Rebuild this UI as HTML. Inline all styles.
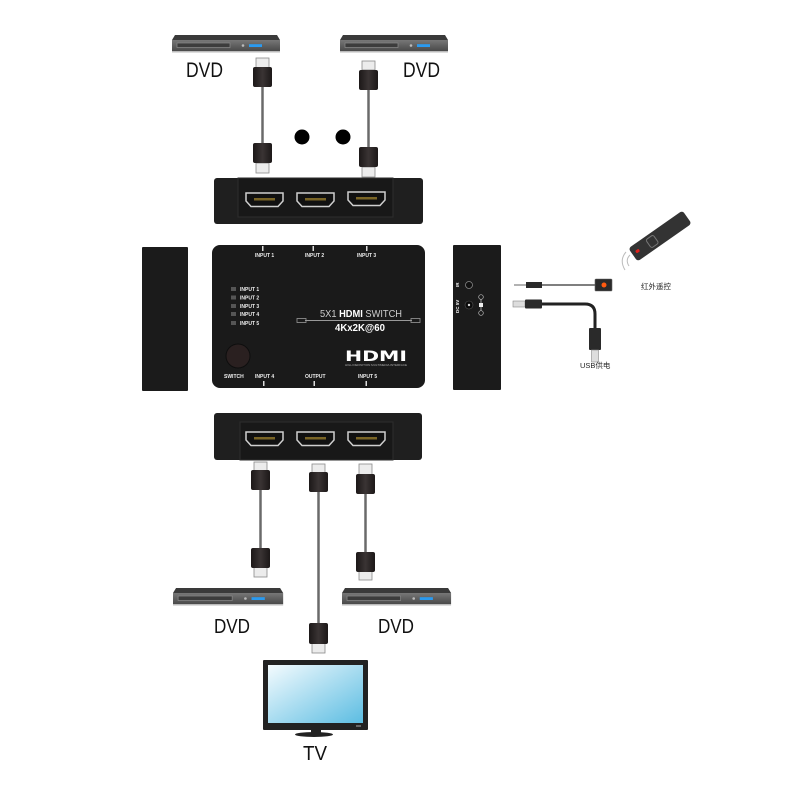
<!DOCTYPE html>
<html><head><meta charset="utf-8"><style>
html,body{margin:0;padding:0;background:#fff;}
svg{display:block;}
text{font-family:"Liberation Sans","Noto Sans CJK SC",sans-serif;}
</style></head><body>
<svg width="800" height="800" viewBox="0 0 800 800" xmlns="http://www.w3.org/2000/svg">
<defs>
<linearGradient id="dvdf" x1="0" y1="0" x2="0" y2="1"><stop offset="0" stop-color="#777"/><stop offset="1" stop-color="#4a4a4a"/></linearGradient>
<linearGradient id="scr" x1="0" y1="0" x2="1" y2="1"><stop offset="0" stop-color="#f4fbfe"/><stop offset="1" stop-color="#5cbde2"/></linearGradient>
<linearGradient id="plug" x1="0" y1="0" x2="1" y2="0"><stop offset="0" stop-color="#1c1818"/><stop offset="0.5" stop-color="#3a3434"/><stop offset="1" stop-color="#1c1818"/></linearGradient>
<g id="dvd">
<polygon points="3,0 105,0 108,5 0,5" fill="#3a3a3a"/>
<rect x="0" y="5" width="108" height="11" fill="url(#dvdf)"/>
<rect x="0" y="16" width="108" height="1.5" fill="#bbb"/>
<rect x="5" y="8" width="53" height="4.5" fill="#3c3c3c" stroke="#8a8a8a" stroke-width="0.7"/>
<circle cx="71" cy="10.5" r="1.3" fill="#bbb"/>
<rect x="77" y="9.2" width="13" height="2.8" fill="#2a9af0"/>
</g>
<g id="port">
<path d="M0,0 H37 V8 L32,13.5 H5 L0,8 Z" fill="#111" stroke="#cfcfcf" stroke-width="1.5"/>
<rect x="8" y="5" width="21" height="2.5" fill="#7a6526"/>
</g>
</defs>

<!-- Top DVDs -->
<use href="#dvd" x="172" y="35"/>
<use href="#dvd" x="340" y="35"/>
<text x="186" y="77" font-size="21" fill="#111" textLength="37" lengthAdjust="spacingAndGlyphs">DVD</text>
<text x="403" y="77" font-size="21" fill="#111" textLength="37" lengthAdjust="spacingAndGlyphs">DVD</text>

<!-- Top cables -->
<g stroke="#8a8a8a" stroke-width="0.8">
<rect x="256" y="58" width="13" height="10" fill="#ececec"/>
<rect x="256" y="163" width="13" height="10" fill="#ececec"/>
<rect x="362" y="61" width="13" height="9" fill="#ececec"/>
<rect x="362" y="167" width="13" height="10" fill="#ececec"/>
</g>
<line x1="262.5" y1="87" x2="262.5" y2="143" stroke="#6a6a6a" stroke-width="2.5"/>
<line x1="368.5" y1="90" x2="368.5" y2="147" stroke="#6a6a6a" stroke-width="2.5"/>
<rect x="253" y="67" width="19" height="20" rx="2" fill="url(#plug)"/>
<rect x="253" y="143" width="19" height="20" rx="2" fill="url(#plug)"/>
<rect x="359" y="70" width="19" height="20" rx="2" fill="url(#plug)"/>
<rect x="359" y="147" width="19" height="20" rx="2" fill="url(#plug)"/>

<circle cx="302" cy="137" r="7.5" fill="#000"/>
<circle cx="343" cy="137" r="7.5" fill="#000"/>

<!-- Top panel -->
<rect x="214" y="178" width="209" height="46" rx="3" fill="#1f1f1f"/>
<rect x="238" y="178" width="155" height="39" fill="#181818" stroke="#2e2e2e" stroke-width="1"/>
<use href="#port" x="246" y="193"/>
<use href="#port" x="297" y="193"/>
<use href="#port" x="348" y="192"/>

<!-- Left side panel -->
<rect x="142" y="247" width="46" height="144" rx="1" fill="#1b1b1b"/>

<!-- Main switch -->
<rect x="212" y="245" width="213" height="143" rx="8" fill="#1a1a1a"/>
<g fill="#ddd">
<rect x="262" y="246" width="1.5" height="5"/>
<rect x="312.5" y="246" width="1.5" height="5"/>
<rect x="366" y="246" width="1.5" height="5"/>
<rect x="263" y="381" width="1.5" height="5"/>
<rect x="313.5" y="381" width="1.5" height="5"/>
<rect x="365.5" y="381" width="1.5" height="5"/>
</g>
<g font-size="5" font-weight="bold" fill="#eee">
<text x="255" y="257">INPUT 1</text>
<text x="305" y="257">INPUT 2</text>
<text x="357" y="257">INPUT 3</text>
<text x="224" y="378">SWITCH</text>
<text x="255" y="378">INPUT 4</text>
<text x="305" y="378">OUTPUT</text>
<text x="358" y="378">INPUT 5</text>
<text x="240" y="291">INPUT 1</text>
<text x="240" y="299.5">INPUT 2</text>
<text x="240" y="308">INPUT 3</text>
<text x="240" y="316">INPUT 4</text>
<text x="240" y="325">INPUT 5</text>
</g>
<g fill="#555">
<rect x="231" y="287" width="5" height="4"/>
<rect x="231" y="295.5" width="5" height="4"/>
<rect x="231" y="304" width="5" height="4"/>
<rect x="231" y="312" width="5" height="4"/>
<rect x="231" y="321" width="5" height="4"/>
</g>
<text x="320" y="317" font-size="10.5" fill="#cfcfcf" textLength="82" lengthAdjust="spacingAndGlyphs">5X1 <tspan font-weight="bold" fill="#fff">HDMI</tspan> SWITCH</text>
<line x1="305" y1="320.5" x2="412" y2="320.5" stroke="#999" stroke-width="1"/>
<rect x="297" y="318.5" width="9" height="4" fill="none" stroke="#999" stroke-width="0.8"/>
<rect x="411" y="318.5" width="9" height="4" fill="none" stroke="#999" stroke-width="0.8"/>
<text x="335" y="331" font-size="10" font-weight="bold" fill="#fff" textLength="50" lengthAdjust="spacingAndGlyphs">4Kx2K@60</text>
<text x="345" y="361" font-size="14" font-weight="bold" fill="#fff" textLength="62" lengthAdjust="spacingAndGlyphs" style="font-family:'DejaVu Sans',sans-serif">HDMI</text>
<text x="345" y="366" font-size="2.6" fill="#aaa" textLength="62" lengthAdjust="spacingAndGlyphs">HIGH DEFINITION MULTIMEDIA INTERFACE</text>
<circle cx="238" cy="356" r="12" fill="#2a2020" stroke="#0e0e0e" stroke-width="1"/>

<!-- Right side panel -->
<rect x="453" y="245" width="48" height="145" rx="1" fill="#1b1b1b"/>
<g font-size="4.5" font-weight="bold" fill="#eee">
<text transform="translate(459,287) rotate(-90)">IR</text>
<text transform="translate(459,313) rotate(-90)">DC 5V</text>
</g>
<circle cx="469" cy="285" r="3.5" fill="#111" stroke="#888" stroke-width="0.8"/>
<circle cx="469" cy="305" r="4" fill="#0a0a0a" stroke="#555" stroke-width="0.6"/>
<circle cx="469" cy="305" r="1.2" fill="#ddd"/>
<line x1="481" y1="299" x2="481" y2="311" stroke="#bbb" stroke-width="0.8"/>
<circle cx="481" cy="297" r="2.3" fill="#1b1b1b" stroke="#bbb" stroke-width="0.7"/>
<circle cx="481" cy="313" r="2.3" fill="#1b1b1b" stroke="#bbb" stroke-width="0.7"/>
<rect x="479" y="303" width="4" height="4" fill="#eee"/>

<!-- IR cable -->
<line x1="514" y1="285" x2="527" y2="285" stroke="#999" stroke-width="1.5"/>
<rect x="526" y="282" width="16" height="6" fill="#2a2a2a"/>
<line x1="542" y1="285" x2="595" y2="285" stroke="#555" stroke-width="1.6"/>
<rect x="595" y="279" width="17" height="12" rx="1" fill="#2a2a2a" stroke="#666" stroke-width="0.6"/>
<circle cx="604" cy="285" r="2.5" fill="#ff5a10"/>

<!-- USB cable -->
<rect x="513" y="301" width="12" height="6" fill="#ddd" stroke="#888" stroke-width="0.6"/>
<rect x="525" y="299.5" width="17" height="9" rx="1" fill="#2a2a2a"/>
<path d="M542,304 H585 Q595,304 595,314 V330" fill="none" stroke="#222" stroke-width="3"/>
<rect x="589" y="328" width="12" height="22" rx="1" fill="#2a2a2a"/>
<rect x="591.5" y="350" width="7" height="12" fill="#ddd" stroke="#888" stroke-width="0.6"/>
<text x="580" y="368" font-size="7.5" fill="#222">USB供电</text>

<!-- Remote -->
<g transform="translate(660,236) rotate(-35)">
<rect x="-33" y="-8" width="66" height="16" rx="3" fill="#333"/>
<rect x="-14" y="-5" width="9" height="10" rx="2" fill="none" stroke="#777" stroke-width="1"/>
<rect x="-29" y="-2" width="4" height="3" rx="1" fill="#e0201a"/>
</g>
<g fill="none" stroke="#bbb" stroke-width="1">
<path d="M630,255 Q625,260 629,266"/>
<path d="M626,252 Q619,260 625,270"/>
</g>
<text x="641" y="289" font-size="7.5" fill="#222">红外遥控</text>

<!-- Bottom panel -->
<rect x="214" y="413" width="208" height="47" rx="3" fill="#1f1f1f"/>
<rect x="240" y="422" width="153" height="38" fill="#181818" stroke="#2e2e2e" stroke-width="1"/>
<use href="#port" x="246" y="432"/>
<use href="#port" x="297" y="432"/>
<use href="#port" x="348" y="432"/>

<!-- Bottom cables -->
<line x1="260.5" y1="490" x2="260.5" y2="548" stroke="#6a6a6a" stroke-width="2.5"/>
<line x1="318.5" y1="492" x2="318.5" y2="623" stroke="#6a6a6a" stroke-width="2.5"/>
<line x1="365.5" y1="494" x2="365.5" y2="552" stroke="#6a6a6a" stroke-width="2.5"/>
<g stroke="#8a8a8a" stroke-width="0.8" fill="#ececec">
<rect x="254" y="462" width="13" height="9"/>
<rect x="254" y="567" width="13" height="10"/>
<rect x="312" y="464" width="13" height="9"/>
<rect x="312" y="643" width="13" height="10"/>
<rect x="359" y="464" width="13" height="11"/>
<rect x="359" y="571" width="13" height="9"/>
</g>
<rect x="251" y="470" width="19" height="20" rx="2" fill="url(#plug)"/>
<rect x="251" y="548" width="19" height="20" rx="2" fill="url(#plug)"/>
<rect x="309" y="472" width="19" height="20" rx="2" fill="url(#plug)"/>
<rect x="309" y="623" width="19" height="21" rx="2" fill="url(#plug)"/>
<rect x="356" y="474" width="19" height="20" rx="2" fill="url(#plug)"/>
<rect x="356" y="552" width="19" height="20" rx="2" fill="url(#plug)"/>

<!-- Bottom DVDs -->
<use href="#dvd" x="173" y="588" transform="translate(173,588) scale(1.02,1) translate(-173,-588)"/>
<use href="#dvd" x="342" y="588" transform="translate(342,588) scale(1.01,1) translate(-342,-588)"/>
<text x="214" y="633" font-size="20" fill="#111" textLength="36" lengthAdjust="spacingAndGlyphs">DVD</text>
<text x="378" y="633" font-size="20" fill="#111" textLength="36" lengthAdjust="spacingAndGlyphs">DVD</text>

<!-- TV -->
<rect x="263" y="660" width="105" height="70" rx="1" fill="#222"/>
<rect x="268" y="665" width="95" height="58" fill="url(#scr)"/>
<rect x="356" y="725" width="5" height="2" fill="#666"/>
<rect x="311" y="730" width="10" height="3" fill="#222"/>
<ellipse cx="314" cy="734.5" rx="19" ry="2.5" fill="#222"/>
<text x="303" y="760" font-size="20" fill="#111" textLength="24" lengthAdjust="spacingAndGlyphs">TV</text>
</svg>
</body></html>
